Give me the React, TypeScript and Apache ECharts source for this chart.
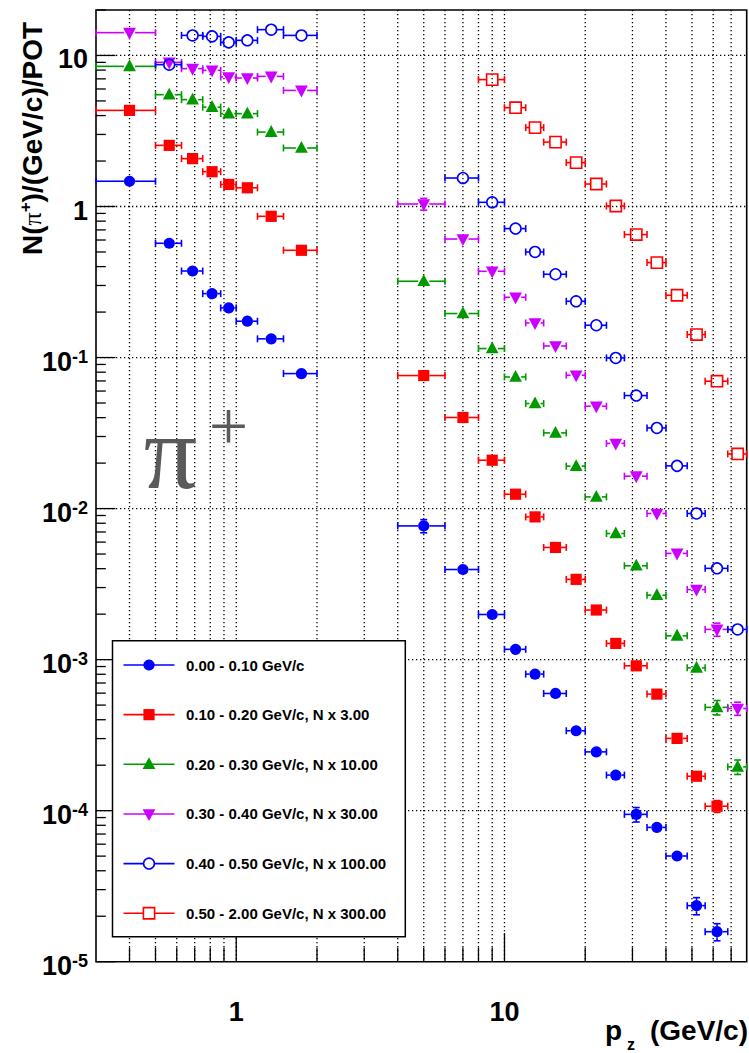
import React, { useEffect, useRef } from "react";
import * as echarts from "echarts";

const FONT = "'Liberation Sans', Arial, Helvetica, sans-serif";
const SERIF = "'Liberation Serif', 'Times New Roman', serif";

// p_z bins (GeV/c)
const binLow = [0.3, 0.5, 0.625, 0.75, 0.875, 1.0, 1.2, 1.5, 4, 6, 8, 10, 12, 14, 17, 20, 24, 28, 34, 40, 48, 56, 68];
const binHigh = [0.5, 0.625, 0.75, 0.875, 1.0, 1.2, 1.5, 2.0, 6, 8, 10, 12, 14, 17, 20, 24, 28, 34, 40, 48, 56, 68, 80];

// N(pi+)/(GeV/c)/POT per pT slice (already scaled as in legend)
const yPt000_010 = [1.47, 0.571, 0.374, 0.265, 0.213, 0.174, 0.133, 0.0783, 0.00768, 0.00395, 0.00199, 0.00117, 0.000802, 0.000597, 0.000338, 0.000245, 0.000172, 0.0000945, 0.0000775, 0.0000501, 0.0000235, 0.0000158, null];
const yPt010_020 = [4.33, 2.54, 2.075, 1.70, 1.40, 1.33, 0.861, 0.513, 0.076, 0.0401, 0.0209, 0.01245, 0.00881, 0.00553, 0.0034, 0.00213, 0.00128, 0.00091, 0.000591, 0.000301, 0.000169, 0.000107, null];
const yPt020_030 = [8.47, 5.5, 5.1, 4.55, 4.12, 4.12, 3.11, 2.44, 0.32, 0.1956, 0.1147, 0.0744, 0.0496, 0.0317, 0.0191, 0.01195, 0.00684, 0.00418, 0.00267, 0.001437, 0.000882, 0.000483, 0.000195];
const yPt030_040 = [14.16, 9.0, 8.18, 7.97, 7.2, 7.09, 7.27, 5.87, 1.039, 0.609, 0.3725, 0.2506, 0.1694, 0.1193, 0.0764, 0.0476, 0.027, 0.01639, 0.00928, 0.00505, 0.00291, 0.001585, 0.000475];
const yPt040_050 = [null, 8.69, 13.58, 13.38, 12.21, 12.59, 14.82, 13.58, null, 1.544, 1.066, 0.714, 0.5, 0.356, 0.2358, 0.1636, 0.0994, 0.056, 0.0342, 0.01918, 0.00928, 0.00402, 0.001585];
const yPt050_200 = [null, null, null, null, null, null, null, null, null, null, 6.92, 4.51, 3.33, 2.67, 1.952, 1.409, 1.008, 0.652, 0.4253, 0.2584, 0.142, 0.0697, 0.023];

// relative statistical errors
const ePt000_010 = [0.07, 0.03, 0.03, 0.03, 0.03, 0.03, 0.03, 0.03, 0.1, 0.05, 0.04, 0.03, 0.03, 0.04, 0.04, 0.05, 0.05, 0.11, 0.07, 0.08, 0.13, 0.13, null];
const ePt010_020 = [0.03, 0.03, 0.03, 0.03, 0.03, 0.03, 0.03, 0.03, 0.04, 0.04, 0.03, 0.03, 0.03, 0.03, 0.03, 0.04, 0.04, 0.05, 0.05, 0.06, 0.07, 0.09, null];
const ePt020_030 = [0.04, 0.03, 0.03, 0.03, 0.03, 0.03, 0.03, 0.03, 0.07, 0.04, 0.03, 0.03, 0.03, 0.03, 0.03, 0.03, 0.04, 0.04, 0.05, 0.05, 0.06, 0.11, 0.11];
const ePt030_040 = [0.04, 0.03, 0.03, 0.03, 0.03, 0.03, 0.03, 0.03, 0.09, 0.05, 0.03, 0.03, 0.03, 0.03, 0.03, 0.03, 0.04, 0.04, 0.05, 0.06, 0.07, 0.1, 0.1];
const ePt040_050 = [null, 0.03, 0.03, 0.03, 0.03, 0.03, 0.03, 0.03, null, 0.03, 0.03, 0.03, 0.03, 0.03, 0.03, 0.03, 0.03, 0.03, 0.03, 0.03, 0.04, 0.04, 0.05];
const ePt050_200 = [null, null, null, null, null, null, null, null, null, null, 0.03, 0.03, 0.03, 0.03, 0.03, 0.03, 0.03, 0.03, 0.03, 0.03, 0.04, 0.04, 0.05];

const legendLabels = [
  "0.00 - 0.10 GeV/c",
  "0.10 - 0.20 GeV/c, N x 3.00",
  "0.20 - 0.30 GeV/c, N x 10.00",
  "0.30 - 0.40 GeV/c, N x 30.00",
  "0.40 - 0.50 GeV/c, N x 100.00",
  "0.50 - 2.00 GeV/c, N x 300.00",
];

// axis decorations
const xGridValues = [0.4, 0.5, 0.6, 0.7, 0.8, 0.9, 1, 2, 3, 4, 5, 6, 7, 8, 9, 10, 20, 30, 40, 50, 60, 70];
const xMajorValues = [1, 10];
const xLabelValues = [1, 10];
const yGridValues = [10, 1, 0.1, 0.01, 0.001, 0.0001];
const yLabelExponents = [-5, -4, -3, -2, -1, 0, 1];

const X_MIN = 0.3, X_MAX = 80, Y_MIN = 1e-5, Y_MAX = 20;

type Kind = "circle" | "square" | "triUp" | "triDown" | "openCircle" | "openSquare";

const seriesDefs: { name: string; values: (number | null)[]; errs: (number | null)[]; color: string; kind: Kind }[] = [
  { name: legendLabels[0], values: yPt000_010, errs: ePt000_010, color: "#0000ff", kind: "circle" },
  { name: legendLabels[1], values: yPt010_020, errs: ePt010_020, color: "#ff0000", kind: "square" },
  { name: legendLabels[2], values: yPt020_030, errs: ePt020_030, color: "#009a00", kind: "triUp" },
  { name: legendLabels[3], values: yPt030_040, errs: ePt030_040, color: "#cc00ff", kind: "triDown" },
  { name: legendLabels[4], values: yPt040_050, errs: ePt040_050, color: "#0000ff", kind: "openCircle" },
  { name: legendLabels[5], values: yPt050_200, errs: ePt050_200, color: "#ff0000", kind: "openSquare" },
];

function markerShape(kind: Kind, cx: number, cy: number, color: string, legend: boolean): any {
  const s = 5.6;
  switch (kind) {
    case "circle":
      return { type: "circle", shape: { cx, cy, r: s }, style: { fill: color } };
    case "square":
      return { type: "rect", shape: { x: cx - s, y: cy - s, width: 2 * s, height: 2 * s }, style: { fill: color } };
    case "triUp":
      return { type: "polygon", shape: { points: [[cx, cy - 7], [cx - 6.4, cy + 4.8], [cx + 6.4, cy + 4.8]] }, style: { fill: color } };
    case "triDown":
      return { type: "polygon", shape: { points: [[cx, cy + 7], [cx - 6.4, cy - 4.8], [cx + 6.4, cy - 4.8]] }, style: { fill: color } };
    case "openCircle":
      return { type: "circle", shape: { cx, cy, r: 5.4 }, style: { fill: legend ? "#fff" : "none", stroke: color, lineWidth: 1.6 } };
    case "openSquare":
      return { type: "rect", shape: { x: cx - 5.6, y: cy - 5.6, width: 11.2, height: 11.2 }, style: { fill: legend ? "#fff" : "none", stroke: color, lineWidth: 1.6 } };
  }
}

function buildData(values: (number | null)[], errs: (number | null)[]) {
  const out: number[][] = [];
  values.forEach((v, i) => {
    if (v == null) return;
    const lo = binLow[i];
    const hi = binHigh[i];
    const e = errs[i] ?? 0;
    out.push([(lo + hi) / 2, v, lo, hi, v * (1 - e), v * (1 + e)]);
  });
  return out;
}

function pointRenderer(kind: Kind, color: string) {
  return (params: any, api: any) => {
    const c = api.coord([api.value(0), api.value(1)]);
    const xl = api.coord([api.value(2), api.value(1)])[0];
    const xh = api.coord([api.value(3), api.value(1)])[0];
    const yb = api.coord([api.value(0), api.value(4)])[1];
    const yt = api.coord([api.value(0), api.value(5)])[1];
    const g = 5.6;
    const cap = 3.5;
    const children: any[] = [];
    const line = (x1: number, y1: number, x2: number, y2: number) =>
      children.push({ type: "line", shape: { x1, y1, x2, y2 }, style: { stroke: color, lineWidth: 1.6 } });
    if (c[0] - g > xl) {
      line(xl, c[1], c[0] - g, c[1]);
      line(xl, c[1] - cap, xl, c[1] + cap);
    }
    if (xh > c[0] + g) {
      line(c[0] + g, c[1], xh, c[1]);
      line(xh, c[1] - cap, xh, c[1] + cap);
    }
    if (yt < c[1] - g) {
      line(c[0], yt, c[0], c[1] - g);
      line(c[0] - cap, yt, c[0] + cap, yt);
    }
    if (yb > c[1] + g) {
      line(c[0], c[1] + g, c[0], yb);
      line(c[0] - cap, yb, c[0] + cap, yb);
    }
    children.push(markerShape(kind, c[0], c[1], color, false));
    return { type: "group", children };
  };
}

function buildOption(): any {
  const dotted = { stroke: "#000", lineWidth: 1.3, lineDash: [1.3, 2.7] };

  const yTicks: number[][] = [];
  for (let e = -5; e <= 1; e++) {
    for (let k = 1; k <= 9; k++) {
      const v = k * Math.pow(10, e);
      if (v <= Y_MAX * 1.0001) yTicks.push([1, v, k === 1 ? 1 : 0]);
    }
  }
  const xTicks = xGridValues.map((v) => [v, 1, xMajorValues.includes(v) ? 1 : 0]);

  const series: any[] = [
    {
      type: "custom",
      name: "xgrid",
      silent: true,
      z: 1,
      data: xGridValues.map((v) => [v, 1]),
      encode: { x: 0, y: 1 },
      renderItem: (params: any, api: any) => {
        const cs = params.coordSys;
        const px = api.coord([api.value(0), 1])[0];
        return { type: "line", shape: { x1: px, y1: cs.y, x2: px, y2: cs.y + cs.height }, style: dotted };
      },
    },
    {
      type: "custom",
      name: "ygrid",
      silent: true,
      z: 1,
      data: yGridValues.map((v) => [1, v]),
      encode: { x: 0, y: 1 },
      renderItem: (params: any, api: any) => {
        const cs = params.coordSys;
        const py = api.coord([1, api.value(1)])[1];
        return { type: "line", shape: { x1: cs.x, y1: py, x2: cs.x + cs.width, y2: py }, style: dotted };
      },
    },
    {
      type: "custom",
      name: "xticks",
      silent: true,
      z: 2,
      data: xTicks,
      encode: { x: 0, y: 1 },
      renderItem: (params: any, api: any) => {
        const cs = params.coordSys;
        const px = api.coord([api.value(0), 1])[0];
        const len = api.value(2) === 1 ? 28.5 : 14.3;
        const yb = cs.y + cs.height;
        return { type: "line", shape: { x1: px, y1: yb, x2: px, y2: yb - len }, style: { stroke: "#000", lineWidth: 1.3 } };
      },
    },
    {
      type: "custom",
      name: "yticks",
      silent: true,
      z: 2,
      data: yTicks,
      encode: { x: 0, y: 1 },
      renderItem: (params: any, api: any) => {
        const cs = params.coordSys;
        const py = api.coord([1, api.value(1)])[1];
        const len = api.value(2) === 1 ? 19.5 : 9.8;
        return { type: "line", shape: { x1: cs.x, y1: py, x2: cs.x + len, y2: py }, style: { stroke: "#000", lineWidth: 1.3 } };
      },
    },
    {
      type: "custom",
      name: "xlabels",
      silent: true,
      z: 3,
      data: xLabelValues.map((v) => [v, Y_MIN]),
      encode: { x: 0, y: 1 },
      renderItem: (params: any, api: any) => {
        const cs = params.coordSys;
        const v = api.value(0);
        const px = api.coord([v, Y_MIN])[0];
        return {
          type: "text",
          x: px,
          y: cs.y + cs.height + 50,
          style: { text: String(v), align: "center", verticalAlign: "middle", fontSize: 27, fontWeight: "bold", fontFamily: FONT, fill: "#000" },
        };
      },
    },
    {
      type: "custom",
      name: "ylabels",
      silent: true,
      z: 3,
      data: yLabelExponents.map((e) => [1, Math.pow(10, e), e]),
      encode: { x: 0, y: 1 },
      renderItem: (params: any, api: any) => {
        const cs = params.coordSys;
        const e = api.value(2);
        const py = api.coord([1, api.value(1)])[1];
        const text = e === 0 ? "{b|1}" : e === 1 ? "{b|10}" : `{b|10}{s|${e}}`;
        return {
          type: "text",
          x: cs.x - 8,
          y: py + 4,
          style: {
            text,
            align: "right",
            verticalAlign: "middle",
            fontFamily: FONT,
            fontWeight: "bold",
            fontSize: 27,
            fill: "#000",
            rich: {
              b: { fontSize: 27, fontWeight: "bold", fontFamily: FONT, fill: "#000", color: "#000", lineHeight: 27 },
              s: { fontSize: 18, fontWeight: "bold", fontFamily: FONT, fill: "#000", color: "#000", lineHeight: 12, verticalAlign: "top" },
            },
          },
        };
      },
    },
  ];

  seriesDefs.forEach((d) => {
    series.push({
      type: "custom",
      name: d.name,
      z: 5,
      data: buildData(d.values, d.errs),
      encode: { x: 0, y: 1 },
      renderItem: pointRenderer(d.kind, d.color),
    });
  });

  // legend (drawn as graphic elements)
  const lg: any[] = [];
  const boxX = 112.5, boxY = 640.8, boxW = 292.8, boxH = 296;
  lg.push({ type: "rect", z: 100, shape: { x: boxX, y: boxY, width: boxW, height: boxH }, style: { fill: "#fff", stroke: "#000", lineWidth: 1.5 } });
  seriesDefs.forEach((d, i) => {
    const yy = 665 + i * 49.65;
    lg.push({ type: "line", z: 101, shape: { x1: 123.5, y1: yy, x2: 174.5, y2: yy }, style: { stroke: d.color, lineWidth: 1.6 } });
    const m = markerShape(d.kind, 149, yy, d.color, true);
    m.z = 102;
    lg.push(m);
    lg.push({
      type: "text",
      z: 102,
      x: 186,
      y: yy,
      style: { text: d.name, fontSize: 15, fontWeight: "bold", fontFamily: FONT, fill: "#000", align: "left", verticalAlign: "middle" },
    });
  });

  const graphics: any[] = [
    ...lg,
    // Y title
    {
      type: "text",
      z: 50,
      x: 32,
      y: 138.5,
      rotation: Math.PI / 2,
      style: {
        text: "{n|N(}{p|π}{s|+}{n|)/(GeV/c)/POT}",
        align: "center",
        verticalAlign: "middle",
        fontFamily: FONT,
        fontSize: 28,
        fontWeight: "bold",
        fill: "#000",
        rich: {
          n: { fontSize: 28, fontWeight: "bold", fontFamily: FONT, fill: "#000", color: "#000", lineHeight: 30 },
          p: { fontSize: 26, fontFamily: SERIF, fill: "#000", color: "#000", lineHeight: 30 },
          s: { fontSize: 17, fontWeight: "bold", fontFamily: FONT, fill: "#000", color: "#000", lineHeight: 14, verticalAlign: "top" },
        },
      },
    },
    // X title
    { type: "text", z: 50, x: 605, y: 1030, style: { text: "p", fontSize: 28, fontWeight: "bold", fontFamily: FONT, fill: "#000", align: "left", verticalAlign: "middle" } },
    { type: "text", z: 50, x: 627, y: 1052, style: { text: "z", fontSize: 16, fontWeight: "bold", fontFamily: FONT, fill: "#000", align: "left", verticalAlign: "bottom" } },
    { type: "text", z: 50, x: 748, y: 1030, style: { text: "(GeV/c)", fontSize: 28, fontWeight: "bold", fontFamily: FONT, fill: "#000", align: "right", verticalAlign: "middle" } },
    // pi+ annotation
    { type: "text", z: 50, x: 170.5, y: 452, style: { text: "π", fontSize: 106, fontFamily: SERIF, fill: "#5a5a5a", align: "center", verticalAlign: "middle" } },
    { type: "text", z: 50, x: 228.5, y: 426, style: { text: "+", fontSize: 70, fontFamily: SERIF, fill: "#5a5a5a", align: "center", verticalAlign: "middle" } },
  ];

  const hiddenAxis = {
    axisLine: { show: false },
    axisTick: { show: false },
    axisLabel: { show: false },
    splitLine: { show: false },
    minorTick: { show: false },
    minorSplitLine: { show: false },
  };

  return {
    animation: false,
    backgroundColor: "#fff",
    grid: { left: 96, top: 10, right: 2.3, bottom: 91.3, show: true, borderColor: "#000", borderWidth: 1.6, backgroundColor: "transparent" },
    xAxis: { type: "log", logBase: 10, min: X_MIN, max: X_MAX, ...hiddenAxis },
    yAxis: { type: "log", logBase: 10, min: Y_MIN, max: Y_MAX, ...hiddenAxis },
    series,
    graphic: { elements: graphics },
  };
}

export default function App() {
  const ref = useRef<HTMLDivElement>(null);
  useEffect(() => {
    if (!ref.current) return;
    const chart = echarts.init(ref.current, null, { renderer: "svg" });
    chart.setOption(buildOption());
    return () => chart.dispose();
  }, []);
  return (
    <div
      ref={ref}
      style={{ position: "fixed", left: 0, top: 0, width: 749, height: 1053, background: "#fff" }}
    />
  );
}
